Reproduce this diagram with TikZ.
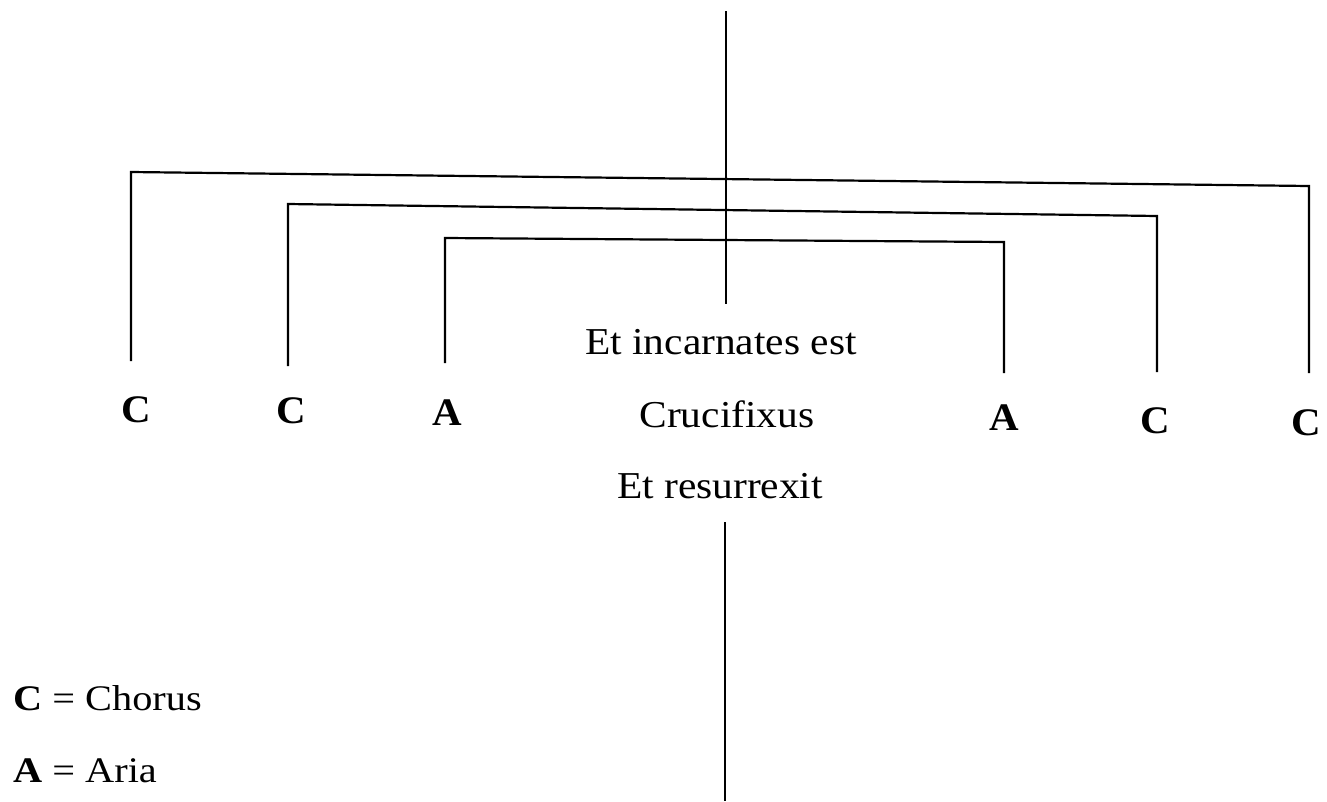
\documentclass[tikz,border=0pt]{standalone}
\usepackage{fontspec}
\setmainfont{Liberation Serif}
\begin{document}
\begin{tikzpicture}[x=1pt,y=-1pt,
  ln/.style={line width=2.2pt},
  lbl/.style={inner sep=0pt,anchor=base,font=\fontsize{39}{42}\selectfont\bfseries,xscale=1.05,transform shape},
  mid/.style={inner sep=0pt,anchor=base,font=\fontsize{38}{42}\selectfont,xscale=1.09,transform shape},
  leg/.style={inner sep=0pt,anchor=base west,font=\fontsize{36}{40}\selectfont,xscale=1.12,transform shape}]
\useasboundingbox (0,0) rectangle (1327,801);
% centre texts
\node[mid] (inc) at (721,354) {Et incarnates est};
\node[mid] (cru) at (727,427) {Crucifixus};
\node[mid] (res) at (720,498) {Et resurrexit};
% letters
\node[lbl] (c1) at (136,422) {C};
\node[lbl] (c2) at (291,423) {C};
\node[lbl] (a1) at (447,425) {A};
\node[lbl] (a2) at (1004,430) {A};
\node[lbl] (c5) at (1155,433) {C};
\node[lbl] (c6) at (1306,435) {C};
% legend
\node[leg] (lc) at (13,710) {\textbf{C} = Chorus};
\node[leg] (la) at (13,782) {\textbf{A} = Aria};
% coordinates
\coordinate (vtop) at (726,11);
\coordinate (vmid) at (726,304);
\coordinate (vlow) at (725,522);
\coordinate (vbot) at (725,801);
\coordinate (o1) at (131,361);
\coordinate (o2) at (131,172);
\coordinate (o3) at (1309,186);
\coordinate (o4) at (1309,373);
\coordinate (m1) at (288,366);
\coordinate (m2) at (288,204);
\coordinate (m3) at (1157,216);
\coordinate (m4) at (1157,372);
\coordinate (i1) at (445,363);
\coordinate (i2) at (445,238);
\coordinate (i3) at (1004,242);
\coordinate (i4) at (1004,373);
% lines
\draw[ln] (vtop) -- (vmid);
\draw[ln] (vlow) -- (vbot);
\draw[ln] (o1) -- (o2) -- (o3) -- (o4);
\draw[ln] (m1) -- (m2) -- (m3) -- (m4);
\draw[ln] (i1) -- (i2) -- (i3) -- (i4);
\end{tikzpicture}
\end{document}
